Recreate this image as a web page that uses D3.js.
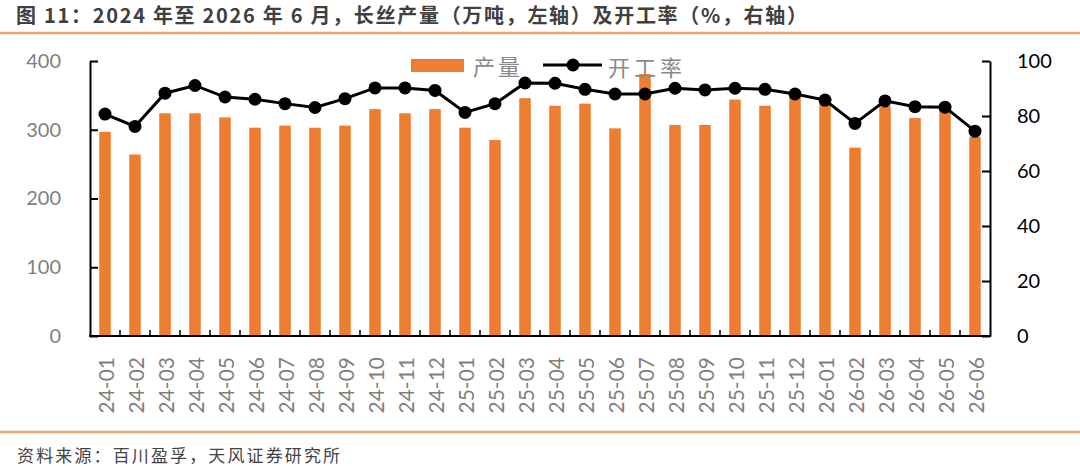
<!DOCTYPE html>
<html><head><meta charset="utf-8">
<script src="https://cdn.jsdelivr.net/npm/d3@7/dist/d3.min.js"></script>
<style>body{margin:0;background:#fff;} svg{display:block;}</style>
</head><body>
<svg id="c" width="1080" height="466"></svg>
<script>
const categories = ["24-01","24-02","24-03","24-04","24-05","24-06","24-07","24-08","24-09","24-10","24-11","24-12",
  "25-01","25-02","25-03","25-04","25-05","25-06","25-07","25-08","25-09","25-10","25-11","25-12",
  "26-01","26-02","26-03","26-04","26-05","26-06"];
const output = [297,264,324,324,318,303,306,303,306,330,324,330,
  303,285,346,335,338,302,381,307,307,344,335,348,
  340,274,334,317,330,290];
const utilization = [80.7,76.2,88.3,91.1,86.9,86.1,84.5,83.1,86.3,90.2,90.2,89.3,
  81.3,84.5,92.0,91.9,89.7,88.0,88.0,90.1,89.5,90.1,89.7,88.0,
  85.8,77.3,85.5,83.4,83.2,74.5];
const leftTicks = [0,100,200,300,400];
const rightTicks = [0,20,40,60,80,100];
const titleText = "图 11：2024 年至 2026 年 6 月，长丝产量（万吨，左轴）及开工率（%，右轴）";
const sourceText = "资料来源：百川盈孚，天风证券研究所";
const legendNames = ["产量","开工率"];

const svg = d3.select("#c");
const L = 90, R = 990, T = 61, B = 336;
const cjk = "'Noto Sans CJK SC','Noto Sans',sans-serif";
const num = "Lato,'Open Sans',sans-serif";
const orange = "#ED7D31";
const rule = "#E9A672";

const x = d3.scaleBand().domain(categories).range([L, R]).paddingInner(0).paddingOuter(0);
const yL = d3.scaleLinear().domain([0,400]).range([B, T]);
const yR = d3.scaleLinear().domain([0,100]).range([B, T]);

// title & source
svg.append("text").attr("x",16).attr("y",23).attr("font-family",cjk).attr("font-weight","bold")
  .attr("font-size",20).attr("fill","#404040").attr("textLength",791).attr("lengthAdjust","spacing").text(titleText);
svg.append("line").attr("x1",0).attr("x2",1080).attr("y1",33).attr("y2",33).attr("stroke",rule).attr("stroke-width",2.5);
svg.append("line").attr("x1",0).attr("x2",1080).attr("y1",432).attr("y2",432).attr("stroke",rule).attr("stroke-width",2.5);
svg.append("text").attr("x",17).attr("y",462).attr("font-family",cjk).attr("font-size",17)
  .attr("fill","#444").attr("textLength",323).attr("lengthAdjust","spacing").text(sourceText);

// bars
const bw = 11.5;
svg.append("g").selectAll("rect").data(output).join("rect")
  .attr("x",(d,i)=>x(categories[i]) + x.bandwidth()/2 - bw/2)
  .attr("width",bw)
  .attr("y",d=>yL(d)).attr("height",d=>B - yL(d)).attr("fill",orange);

// axes
const axL = d3.axisLeft(yL).tickValues(leftTicks).tickSizeInner(-8).tickSizeOuter(0).tickPadding(29);
const gL = svg.append("g").attr("transform",`translate(${L},0)`).call(axL);
gL.select(".domain").attr("stroke","#000").attr("stroke-width",2);
gL.selectAll(".tick line").attr("stroke","#000").attr("stroke-width",2);
gL.selectAll(".tick text").attr("font-family",num).attr("font-size",20).attr("fill","#7f7f7f");

const axR = d3.axisRight(yR).tickValues(rightTicks).tickSizeInner(-8).tickSizeOuter(0).tickPadding(27);
const gR = svg.append("g").attr("transform",`translate(${R},0)`).call(axR);
gR.select(".domain").attr("stroke","#000").attr("stroke-width",2);
gR.selectAll(".tick line").attr("stroke","#000").attr("stroke-width",2);
gR.selectAll(".tick text").attr("font-family",num).attr("font-size",20).attr("fill","#000");

// x axis
svg.append("line").attr("x1",L-1).attr("x2",R+1).attr("y1",B).attr("y2",B).attr("stroke","#000").attr("stroke-width",2);
svg.append("g").selectAll("line").data(categories.slice(1)).join("line")
  .attr("x1",d=>x(d)).attr("x2",d=>x(d)).attr("y1",B).attr("y2",B-6).attr("stroke","#000").attr("stroke-width",1.5);
svg.append("g").selectAll("text").data(categories).join("text")
  .attr("transform",d=>`translate(${x(d)+x.bandwidth()/2+8.5},357) rotate(-90)`)
  .attr("text-anchor","end").attr("font-family",num).attr("font-size",21).attr("fill","#808080").text(d=>d);

// line
const line = d3.line().x((d,i)=>x(categories[i])+x.bandwidth()/2).y(d=>yR(d));
svg.append("path").datum(utilization).attr("d",line).attr("fill","none").attr("stroke","#000").attr("stroke-width",3);
svg.append("g").selectAll("circle").data(utilization).join("circle")
  .attr("cx",(d,i)=>x(categories[i])+x.bandwidth()/2).attr("cy",d=>yR(d)).attr("r",6.5).attr("fill","#000");

// legend
const lg = svg.append("g");
lg.append("rect").attr("x",411).attr("y",59).attr("width",53).attr("height",13).attr("fill",orange);
lg.append("text").attr("x",473).attr("y",75).attr("font-family",cjk).attr("font-size",22).attr("fill","#8a8a8a")
  .attr("textLength",47).attr("lengthAdjust","spacing").text(legendNames[0]);
lg.append("line").attr("x1",543).attr("x2",602).attr("y1",65).attr("y2",65).attr("stroke","#000").attr("stroke-width",3);
lg.append("circle").attr("cx",573).attr("cy",65).attr("r",6.5).attr("fill","#000");
lg.append("text").attr("x",608).attr("y",76).attr("font-family",cjk).attr("font-size",22).attr("fill","#8a8a8a")
  .attr("textLength",74).attr("lengthAdjust","spacing").text(legendNames[1]);
</script>
</body></html>
